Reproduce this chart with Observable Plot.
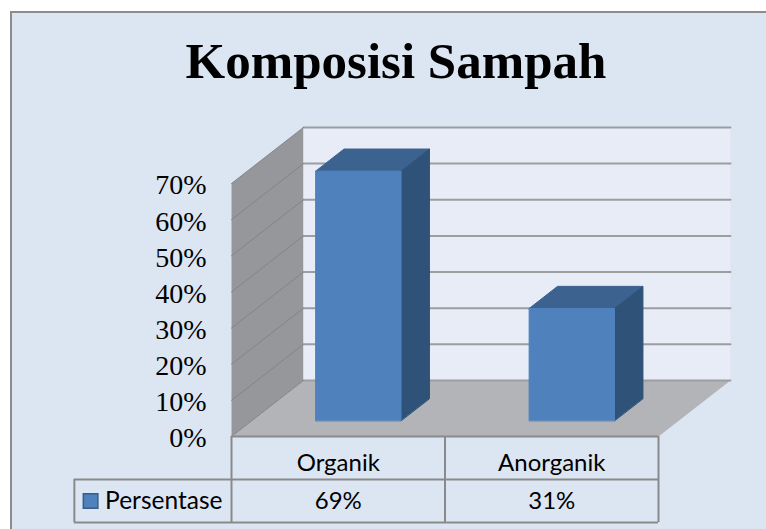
<!DOCTYPE html>
<html><head><meta charset="utf-8">
<script src="https://cdn.jsdelivr.net/npm/d3@7"></script>
<script src="https://cdn.jsdelivr.net/npm/@observablehq/plot@0.6"></script>
<style>
html,body{margin:0;padding:0;background:#fff;width:766px;height:529px;overflow:hidden}
#panel{position:absolute;left:10px;top:11px;width:800px;height:600px;background:#dce6f2;border:2px solid #8c8c8c;box-sizing:border-box}
#chart{position:absolute;left:0;top:0}
#chart svg{background:transparent;display:block}
#title{position:absolute;left:0;width:792px;top:31px;text-align:center;font:bold 51px/60px "Liberation Serif",serif;color:#000}
</style></head><body>
<div id="panel"></div>
<div id="chart"></div>
<div id="title">Komposisi Sampah</div>
<script>
const categories = ["Organik", "Anorganik"];
const values = [69, 31];
const valueLabels = ["69%", "31%"];
const seriesName = "Persentase";
const yTicks = [0, 10, 20, 30, 40, 50, 60, 70];

// oblique projection: depth d in [0,1] shifts along x (category units) and y (percent units)
const DX = 0.337, DY = 15.5;
const P = (cat, val, d, face) => ({x: cat + d * DX, y: val + d * DY, face});
const quad = (face, a, b, c, e) => [a, b, c, e].map(p => P(p[0], p[1], p[2], face));
const W = 0.4, X0 = 0.298, D0 = 0.285, D1 = 0.68;   // bar width, offset in a category, depth span

const walls = [
  ...quad("side", [0,0,0],[0,70,0],[0,70,1],[0,0,1]),
  ...quad("back", [0,0,1],[0,70,1],[2,70,1],[2,0,1]),
  ...quad("floor",[0,0,0],[0,0,1],[2,0,1],[2,0,0])
];
const wallColors = {side:"#96979b", back:"#e7ecf6", floor:"#b2b4b8"};

const backGrid = yTicks.flatMap(t => [P(0,t,1,t), P(2,t,1,t)]);
const sideGrid = yTicks.flatMap(t => [P(0,t,0,t), P(0,t,1,t)]);

const barFaces = categories.flatMap((c, i) => {
  const l = i + X0, r = l + W, v = values[i];
  return [
    ...quad(c+"-top",  [l,v,D0],[l,v,D1],[r,v,D1],[r,v,D0]),
    ...quad(c+"-right",[r,0,D0],[r,v,D0],[r,v,D1],[r,0,D1]),
    ...quad(c+"-front",[l,0,D0],[l,v,D0],[r,v,D0],[r,0,D0])
  ];
});
const barFill = f => f.endsWith("top") ? "#3c6390" : f.endsWith("right") ? "#2f5279" : "#4f81bd";

// data-table rows, in the chart's percent units below the zero line
const ROW1 = -11.9, ROW2 = -23.8, LEGEND_X = -0.736;
const F = 24;

const plot = Plot.plot({
  width: 766, height: 529,
  marginLeft: 231, marginRight: 108, marginTop: 183, marginBottom: 93,
  x: {domain: [0, 2]},
  y: {domain: [0, 70]},
  marks: [
    Plot.line(walls, {x:"x", y:"y", z:"face", fill:d=>wallColors[d.face], stroke:null, curve:"linear-closed"}),
    Plot.line(backGrid, {x:"x", y:"y", z:"face", stroke:"#9c9da1", strokeWidth:2}),
    Plot.line(sideGrid, {x:"x", y:"y", z:"face", stroke:"#838488", strokeWidth:1}),
    Plot.line(barFaces, {x:"x", y:"y", z:"face", fill:d=>barFill(d.face), stroke:d=>barFill(d.face), strokeWidth:1, curve:"linear-closed"}),
    // data table
    Plot.ruleY([0], {x1:0, x2:2, stroke:"#8a8a8a", strokeWidth:2}),
    Plot.ruleY([ROW1], {x1:LEGEND_X, x2:2, stroke:"#8a8a8a", strokeWidth:2}),
    Plot.ruleY([ROW2], {x1:LEGEND_X, x2:2, stroke:"#8a8a8a", strokeWidth:2}),
    Plot.ruleX([0,1,2], {y1:0, y2:ROW2, stroke:"#8a8a8a", strokeWidth:2}),
    Plot.ruleX([LEGEND_X], {y1:ROW1, y2:ROW2, stroke:"#8a8a8a", strokeWidth:2}),
    Plot.axisY({ticks:yTicks, tickFormat:d=>d+"%", tickSize:0, tickPadding:25, label:null,
      fontFamily:"Liberation Serif, serif", fontSize:28, fill:"#000", dy:2}),
    Plot.axisX({ticks:[0.5,1.5], tickFormat:d=>categories[d-0.5], tickSize:0, tickPadding:17, label:null,
      fontFamily:"Lato, sans-serif", fontSize:F, fill:"#000"}),
    Plot.text(valueLabels, {x:(d,i)=>i+0.5, y:(ROW1+ROW2)/2, text:d=>d, fontFamily:"Lato, sans-serif", fontSize:F, fill:"#000"}),
    Plot.dot([seriesName], {x:-0.66, y:(ROW1+ROW2)/2, symbol:"square", r:8.2, fill:"#4f81bd", stroke:"#385d8a", strokeWidth:1.5}),
    Plot.text([seriesName], {x:-0.592, y:(ROW1+ROW2)/2, text:d=>d, textAnchor:"start", fontFamily:"Lato, sans-serif", fontSize:F+0.5, fill:"#000"})
  ]
});
document.getElementById("chart").appendChild(plot);
</script>
</body></html>
